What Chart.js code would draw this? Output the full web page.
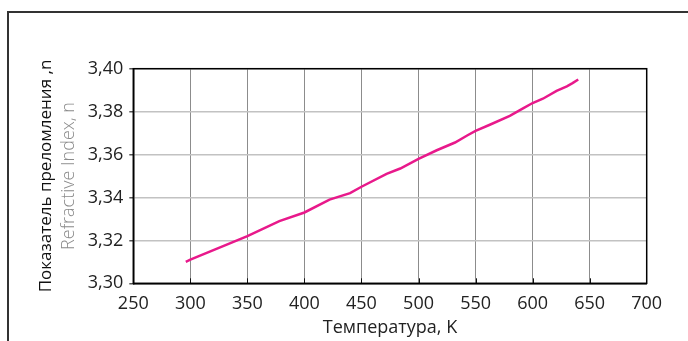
<!DOCTYPE html>
<html>
<head>
<meta charset="utf-8">
<script src="https://cdn.jsdelivr.net/npm/chart.js@4.4.1/dist/chart.umd.min.js"></script>
<style>
  body { margin: 0; background: #fff; }
  #wrap { position: relative; width: 688px; height: 341px; overflow: hidden; }
  #frame { position: absolute; left: 7px; top: 11px; width: 720px; height: 400px;
           border-top: 2px solid #333; border-left: 2px solid #333; }
  #chart { position: absolute; left: 0; top: 0; }
</style>
</head>
<body>
<div id="wrap">
  <div id="frame"></div>
  <canvas id="chart" width="688" height="341"></canvas>
</div>
<script>
// Temperature (K) and refractive index
const temperature = [296, 300, 350, 378, 400, 422, 440, 450, 472, 484, 500, 516, 532, 543, 550, 563, 580, 592, 600, 609, 621, 630, 635, 640];
const refractiveIndex = [3.310, 3.311, 3.322, 3.329, 3.333, 3.339, 3.342, 3.345, 3.351, 3.3535, 3.358, 3.362, 3.3656, 3.369, 3.371, 3.374, 3.378, 3.3816, 3.384, 3.386, 3.3897, 3.3918, 3.3933, 3.395];

const xTitle = 'Температура, K';
const yTitle = 'Показатель преломления ,n';
const yTitleEn = 'Refractive Index, n';

Chart.defaults.font.family = "'Open Sans', sans-serif";

const points = temperature.map((t, i) => ({ x: t, y: refractiveIndex[i] }));

// plot frame, inner x ticks and the grey english axis title
const extras = {
    id: 'extras',
    afterDraw(chart) {
        const { ctx, chartArea: a, scales } = chart;
        ctx.save();
        ctx.strokeStyle = '#111';
        ctx.lineWidth = 1;
        scales.x.ticks.forEach(t => {
            if (t.value <= 250 || t.value >= 700) return;
            const px = Math.round(scales.x.getPixelForValue(t.value)) + 0.5;
            ctx.beginPath();
            ctx.moveTo(px, a.bottom);
            ctx.lineTo(px, a.bottom - 5);
            ctx.stroke();
        });
        ctx.lineWidth = 1.5;
        ctx.strokeStyle = '#000';
        ctx.strokeRect(a.left, a.top, a.right - a.left, a.bottom - a.top);

        ctx.translate(69, (a.top + a.bottom) / 2);
        ctx.rotate(-Math.PI / 2);
        ctx.fillStyle = '#8a8a8a';
        ctx.font = "300 18px 'Open Sans'";
        ctx.textAlign = 'center';
        ctx.textBaseline = 'middle';
        ctx.fillText(yTitleEn, 0, 0);
        ctx.restore();
    }
};

new Chart(document.getElementById('chart'), {
    type: 'line',
    data: {
        datasets: [{
            data: points,
            borderColor: '#e8198b',
            borderWidth: 2.5,
            pointRadius: 0,
            tension: 0,
            fill: false
        }]
    },
    options: {
        responsive: false,
        animation: false,
        layout: { padding: { left: 0, top: 68.7, right: 41.3, bottom: 0 } },
        plugins: { legend: { display: false }, tooltip: { enabled: false } },
        scales: {
            x: {
                type: 'linear',
                min: 250,
                max: 700,
                afterFit: s => { s.height = 57.7; },
                ticks: { stepSize: 50, color: '#222', font: { size: 18 }, padding: 10 },
                grid: { color: '#8c8c8c', lineWidth: 1, drawTicks: false },
                border: { color: '#000', width: 1.5 },
                title: {
                    display: true, text: xTitle, color: '#222',
                    font: { size: 18 }, padding: { top: 0, bottom: 2 }
                }
            },
            y: {
                min: 3.30,
                max: 3.40,
                afterFit: s => { s.width = 133.3; },
                ticks: {
                    stepSize: 0.02, color: '#222', font: { size: 18 }, padding: 6,
                    callback: v => v.toFixed(2).replace('.', ',')
                },
                grid: { color: '#c2c2c2', lineWidth: 1.5, tickLength: 4, tickColor: '#555' },
                border: { color: '#000', width: 1.5 },
                title: {
                    display: true, text: yTitle, color: '#111',
                    font: { size: 17 }, padding: { top: 36, bottom: 0 }
                }
            }
        }
    },
    plugins: [extras]
});
</script>
</body>
</html>
